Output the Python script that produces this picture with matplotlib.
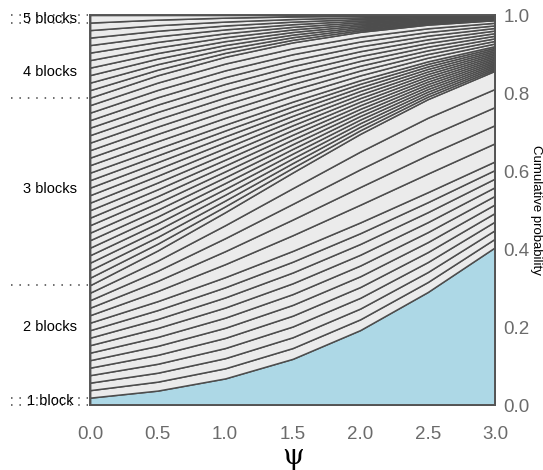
import numpy as np
import matplotlib
matplotlib.use("Agg")
import matplotlib.pyplot as plt
import matplotlib.transforms as mtransforms

plt.rcParams['font.family'] = ['Liberation Sans', 'DejaVu Sans']

psi = [0.0, 0.5, 1.0, 1.5, 2.0, 2.5, 3.0]

# probability of a single partition of each block-size type, per psi value
p_5 = [0.01923, 0.03728, 0.06854, 0.11872, 0.19241, 0.28996, 0.40512]
p_41 = [0.01923, 0.02598, 0.03330, 0.04020, 0.04541, 0.04770, 0.04645]
p_32 = [0.01923, 0.02294, 0.02596, 0.02767, 0.02760, 0.02559, 0.02201]
p_311 = [0.01923, 0.01878, 0.01740, 0.01519, 0.01240, 0.00942, 0.00663]
p_221 = [0.01923, 0.01742, 0.01496, 0.01211, 0.00917, 0.00646, 0.00421]
p_2111 = [0.01923, 0.01426, 0.01003, 0.00665, 0.00412, 0.00237, 0.00127]
p_11111 = [0.01923, 0.01168, 0.00672, 0.00365, 0.00185, 0.00087, 0.00038]

# stacking order of the 52 partitions (bottom to top) and how many of each
order = [(p_5, 1), (p_32, 10), (p_41, 5), (p_221, 15), (p_311, 10),
         (p_2111, 10), (p_11111, 1)]

group_labels = ["1 block", "2 blocks", "3 blocks", "4 blocks", "5 blocks"]
group_label_y = [0.01, 0.20, 0.555, 0.855, 0.99]
group_bounds = [0.0, 1 / 52, 16 / 52, 41 / 52, 51 / 52, 1.0]

series = []
for vals, n in order:
    for k in range(n):
        series.append(vals)

fig = plt.figure(figsize=(5.43, 4.70), dpi=100)
ax = fig.add_axes([0.166, 0.138, 0.746, 0.830])

colors = ['#add8e6'] + ['#ebebeb'] * (len(series) - 1)
ax.stackplot(psi, np.array(series), colors=colors, edgecolor='#4d4d4d', linewidth=1.1)

ax.set_xlim(0, 3)
ax.set_ylim(0, 1)
ax.set_xticks([0.0, 0.5, 1.0, 1.5, 2.0, 2.5, 3.0])
ax.set_yticks([0.0, 0.2, 0.4, 0.6, 0.8, 1.0])
ax.xaxis.set_major_formatter(matplotlib.ticker.FormatStrFormatter('%.1f'))
ax.yaxis.set_major_formatter(matplotlib.ticker.FormatStrFormatter('%.1f'))
ax.yaxis.tick_right()
ax.yaxis.set_label_position('right')
ax.tick_params(length=0, labelsize=13.5, labelcolor='#6b6b6b')
ax.tick_params(axis='x', pad=15)
ax.tick_params(axis='y', pad=6)
for s in ax.spines.values():
    s.set_color('#555555')
    s.set_linewidth(1.4)

ax.set_xlabel('ψ', fontsize=20, family='DejaVu Serif', labelpad=0)
ax.set_ylabel('Cumulative probability', fontsize=9.5, rotation=270, va='center')
ax.yaxis.set_label_coords(1.1, 0.5)

trans = mtransforms.blended_transform_factory(ax.transAxes, ax.transData)
for b in group_bounds:
    ax.plot([-0.195, -0.005], [b, b], transform=trans, clip_on=False,
            color='#444444', lw=1.1, linestyle=(0, (1, 4.5)))
for lab, y in zip(group_labels, group_label_y):
    ax.text(-0.099, y, lab, transform=trans, ha='center', va='center', fontsize=10.5)

fig.savefig('out.png', dpi=100)
